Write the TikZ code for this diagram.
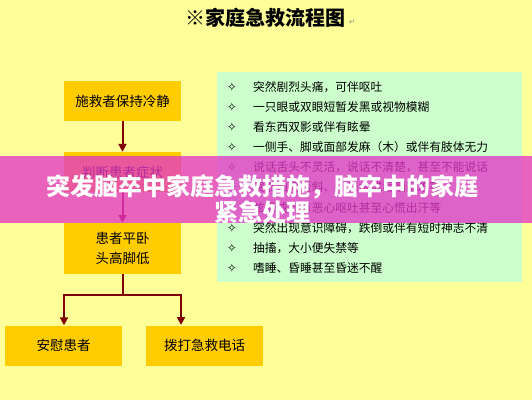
\documentclass[tikz,border=0pt]{standalone}
\usepackage{fontspec}
\setmainfont{Noto Sans CJK SC}
\newfontfamily\dejavu{DejaVu Sans}
\usetikzlibrary{arrows.meta,calc}
\definecolor{bgyellow}{RGB}{255,255,153}
\definecolor{listgreen}{RGB}{204,255,204}
\definecolor{boxgold}{RGB}{255,204,0}
\definecolor{arrowred}{RGB}{128,0,0}
\definecolor{bandpink}{RGB}{228,56,200}
\tikzset{>={Triangle[width=8pt,length=8pt]}}
\tikzset{stepbox/.style={fill=boxgold, minimum width=117pt, minimum height=40pt, inner sep=0pt,
    font=\fontsize{13.5}{20}\selectfont, align=center},
  flow/.style={arrowred, line width=2pt}}

\begin{document}
\begin{tikzpicture}[x=1pt,y=-1pt]
      \useasboundingbox (0,0) rectangle (532,400);
      \fill[bgyellow] (0,0) rectangle (532,400);
      \node (title) at (265,18) {\fontsize{20}{24}\selectfont\bfseries ※家庭急救流程图};
      \node[text=gray, font=\dejavu\fontsize{7}{7}\selectfont] (ret) at (352,22) {↵};

      % symptoms
      \fill[listgreen] (217,72) rectangle (522,282);
      \foreach \txt [count=\i] in {{突然剧烈头痛，可伴呕吐},{一只眼或双眼短暂发黑或视物模糊},{看东西双影或伴有眩晕},
          {一侧手、脚或面部发麻（木）或伴有肢体无力},{说话舌头不灵活，说话不清楚，甚至不能说话},
          {突然口角歪斜、流口水或吞咽困难等},{眩晕或伴有恶心呕吐甚至心慌出汗等},
          {突然出现意识障碍，跌倒或伴有短时神志不清},{抽搐，大小便失禁等},{嗜睡、昏睡甚至昏迷不醒}}{
        \node[inner sep=0pt, font=\dejavu\fontsize{12}{12}\selectfont] (mark\i) at (232,{87+20.1*(\i-1)}) {✧};
        \node[anchor=west, inner sep=0pt, font=\fontsize{11.75}{14}\selectfont] (sym\i) at (253,{87+20.1*(\i-1)}) {\txt};
      }

      % flow
      \node[stepbox] (calm) at (122.5,101) {施救者保持冷静};
      \node[stepbox] (judge) at (122.5,172) {判断患者症状};
      \node[stepbox, minimum height=51pt] (lie) at (122.5,248.5) {患者平卧\\头高脚低};
      \node[stepbox] (comfort) at (63.5,345.5) {安慰患者};
      \node[stepbox] (call) at (204.5,345.5) {拨打急救电话};
      \coordinate (fork) at (122.5,295);
      \draw[flow,->] (calm) -- (judge);
      \draw[flow,->] (judge) -- (lie);
      \draw[flow] (lie) -- (fork);
      \draw[flow,->] (fork) -| ($(comfort.north)+(0.5,0)$);
      \draw[flow,->] (fork) -| (181,325);

      % banner
      \fill[bandpink, opacity=0.78] (0,156) rectangle (532,223);
      \node[text=white, align=center, font=\fontsize{24}{26}\selectfont\bfseries] (headline) at (262,199)
        {突发脑卒中家庭急救措施，脑卒中的家庭\\紧急处理};
\end{tikzpicture}
\end{document}
